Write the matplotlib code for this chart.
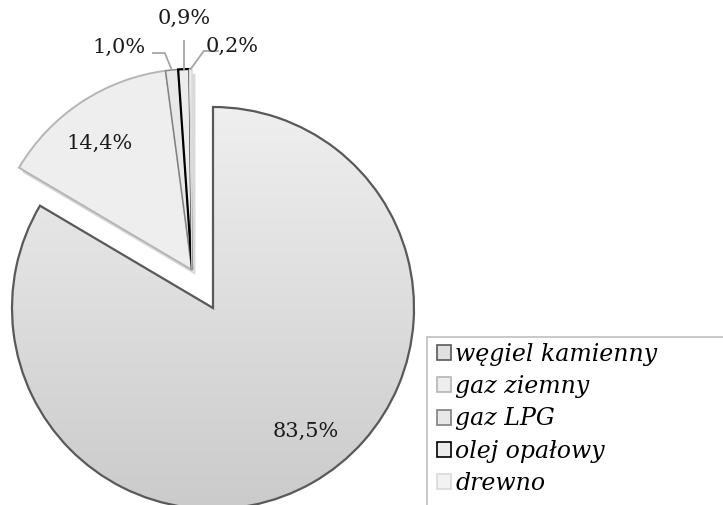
import numpy as np
import matplotlib
matplotlib.use('Agg')
import matplotlib.pyplot as plt
import matplotlib.patheffects as pe
from matplotlib.colors import LinearSegmentedColormap
from matplotlib.patches import Rectangle

# data
categories = ['węgiel kamienny', 'gaz ziemny', 'gaz LPG', 'olej opałowy', 'drewno']
shares = [83.5, 14.4, 1.0, 0.9, 0.2]
labels = ['83,5%', '14,4%', '1,0%', '0,9%', '0,2%']

faces = ['#e0e0e0', '#eeeeee', '#e8e8e8', '#ececec', '#f2f2f2']
edges = ['#595959', '#b5b5b5', '#7f7f7f', '#000000', '#d9d9d9']
widths = [1.6, 1.4, 1.0, 1.6, 1.0]

plt.rcParams['font.family'] = ['DejaVu Serif']

fig = plt.figure(figsize=(7.23, 5.05), dpi=100)
ax = fig.add_axes([0, 0, 1, 1])

# pixel geometry of the original: centre (213, 308), radius 201
R = 201.0
cx, cy = 213.0, 308.0
W, H = 723.0, 505.0

wedges, _ = ax.pie(shares, startangle=90, counterclock=False, radius=1.0,
                   colors=faces,
                   wedgeprops=dict(linewidth=1.5, joinstyle='miter'))

# all smaller slices pulled out together towards upper left
shift = (-21 / R, 38 / R)
for i, w in enumerate(wedges):
    w.set_edgecolor(edges[i])
    w.set_linewidth(widths[i])
    if i > 0:
        w.set_center(shift)
        w.set_path_effects([pe.SimplePatchShadow(offset=(2.5, -3.5), shadow_rgbFace='#000000', alpha=0.15),
                            pe.Normal()])

# vertical gradient on the big slice
big = wedges[0]
cmap = LinearSegmentedColormap.from_list('g', ['#cbcbcb', '#efefef'])
grad = np.linspace(0, 1, 256).reshape(-1, 1)
im = ax.imshow(grad, extent=(-1, 1, -1, 1), origin='lower', cmap=cmap,
               aspect='auto', zorder=big.get_zorder() - 0.1)
im.set_clip_path(big)
big.set_facecolor('none')

ax.set_xlim(-cx / R, (W - cx) / R)
ax.set_ylim(-(H - cy) / R, cy / R)
ax.set_axis_off()

# labels inside
ax.text(0.463, -0.612, labels[0], ha='center', va='center', fontsize=15, color='#1a1a1a')
ax.text(-0.562, 0.821, labels[1], ha='center', va='center', fontsize=15, color='#1a1a1a')

# labels outside with leader lines
def edge_point(w):
    mid = np.deg2rad((w.theta1 + w.theta2) / 2)
    c = w.center
    return np.array([c[0] + np.cos(mid), c[1] + np.sin(mid)])

lc = '#a6a6a6'
px = 1 / R
# 1,0%
e = edge_point(wedges[2])
k = e + np.array([-7, 17]) * px
t = k + np.array([-12, 0]) * px
ax.plot([t[0], k[0], e[0]], [t[1], k[1], e[1]], color=lc, lw=1.3, solid_joinstyle='miter')
ax.text(t[0] - 7 * px, t[1] + 6 * px, labels[2], ha='right', va='center', fontsize=15, color='#1a1a1a')
# 0,9%
e = edge_point(wedges[3])
t = e + np.array([0, 28]) * px
ax.plot([t[0], e[0]], [t[1], e[1]], color=lc, lw=1.3)
ax.text(t[0], t[1] + 23 * px, labels[3], ha='center', va='center', fontsize=15, color='#1a1a1a')
# 0,2%
e = edge_point(wedges[4])
k = e + np.array([13, 18]) * px
t = k + np.array([14, 0]) * px
ax.plot([t[0], k[0], e[0]], [t[1], k[1], e[1]], color=lc, lw=1.3, solid_joinstyle='miter')
ax.text(t[0] - 12 * px, t[1] + 5 * px, labels[4], ha='left', va='center', fontsize=15, color='#1a1a1a')

# legend box, cut by the figure edge like the original
fig.patches.append(Rectangle((427 / W, -0.1), 0.5, (H - 337) / H + 0.1, transform=fig.transFigure,
                             facecolor='white', edgecolor='#bfbfbf', linewidth=1.2, zorder=5))
handles = [Rectangle((0, 0), 1, 1, facecolor=faces[i], edgecolor=edges[i], linewidth=1.2)
           for i in range(len(categories))]
leg = fig.legend(handles, categories, loc='upper left', bbox_to_anchor=(420 / W, 1 - 326 / H),
                 frameon=False, prop=dict(style='italic', size=17), handlelength=0.6, handleheight=0.6,
                 handletextpad=0.2, labelspacing=0.4, borderpad=0.2)
leg.set_zorder(6)

fig.savefig('out.png', dpi=100)
